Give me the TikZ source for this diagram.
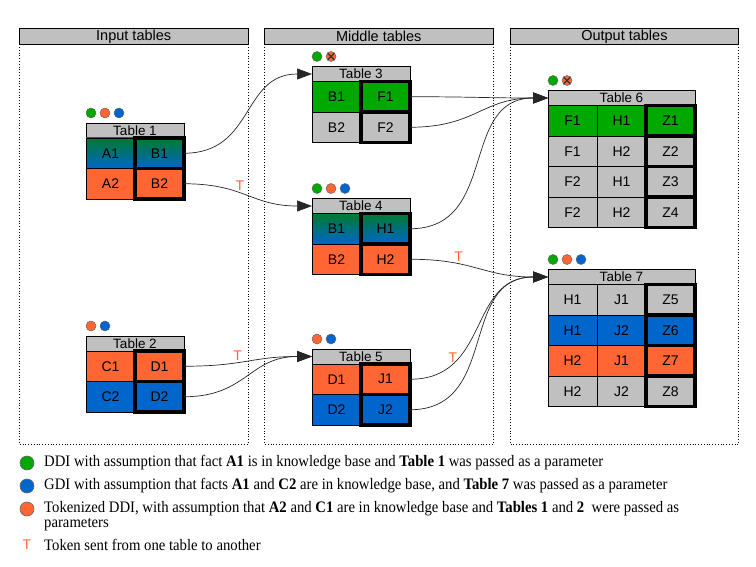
\documentclass[tikz,border=0pt]{standalone}
\usepackage{fontspec}
\setmainfont{Liberation Serif}[FakeStretch=0.92]
\newfontfamily\tabfont{Liberation Sans}
\usetikzlibrary{arrows.meta}

\definecolor{grn}{RGB}{0,168,0}
\definecolor{grnD}{RGB}{0,122,45}
\definecolor{org}{RGB}{255,102,51}
\definecolor{blu}{RGB}{0,102,204}
\definecolor{gry}{RGB}{192,192,192}

\tikzset{
	phead/.style={draw, fill=gry, line width=0.8pt, minimum width=228.4pt, minimum height=16pt, inner sep=0pt, outer sep=0pt, anchor=north west, font=\tabfont\fontsize{14.5}{14.5}\selectfont},
	panel/.style={dotted, line width=0.8pt},
	thead/.style={draw, fill=gry, line width=0.8pt, minimum width=98pt, minimum height=15pt, inner sep=0pt, outer sep=0pt, anchor=north west, font=\tabfont\fontsize{13.5}{13.5}\selectfont},
	cell/.style={draw, line width=0.8pt, minimum width=49pt, minimum height=30.5pt, inner sep=0pt, outer sep=0pt, anchor=north west, font=\tabfont\fontsize{14}{14}\selectfont},
	keycell/.style={cell, line width=3.2pt},
	grad/.style={top color=grnD, bottom color=blu},
	dot/.style={circle, draw=black!60, line width=0.5pt, minimum size=10pt, inner sep=0pt},
	xdot/.style={dot, fill=org, path picture={\draw[black!80, line width=1.1pt] (path picture bounding box.south west) -- (path picture bounding box.north east) (path picture bounding box.north west) -- (path picture bounding box.south east);}},
	conn/.style={line width=0.7pt, black!85, -{Triangle[length=15pt,width=11pt]}, out=0, in=180, looseness=1.2},
	tok/.style={text=org, anchor=south, inner sep=1.5pt, font=\tabfont\fontsize{14}{14}\selectfont},
	ldot/.style={circle, draw=black!60, line width=0.6pt, minimum size=14pt, inner sep=0pt},
	legtxt/.style={anchor=west, inner sep=0pt, font=\fontsize{16}{16}\selectfont}
}

\begin{document}
\begin{tikzpicture}[x=1pt,y=-1pt]
			%%%%% START %%%%%
			\useasboundingbox (0,0) rectangle (756,567);
			
			\node[phead] (pin) at (19.5,28.3) {Input tables};
			\node[phead] (pmid) at (264.6,28.3) {Middle tables};
			\node[phead] (pout) at (510.2,28.3) {Output tables};
			\draw[panel] (pin.south west) -- ++(0,400) -| (pin.south east);
			\draw[panel] (pmid.south west) -- ++(0,400) -| (pmid.south east);
			\draw[panel] (pout.south west) -- ++(0,400) -| (pout.south east);
			
			% Table 1
			\node[dot, fill=grn] (d1a) at (91,113) {};
			\node[dot, fill=org] (d1b) at (105,113) {};
			\node[dot, fill=blu] (d1c) at (119,113) {};
			\node[thead] (t1h) at (86,123) {Table 1};
			\node[cell, grad] (t1a1) at (86,138) {A1};
			\node[cell, fill=org] (t1a2) at (86,168.5) {A2};
			\node[keycell, grad] (t1b1) at (135,138) {B1};
			\node[keycell, fill=org] (t1b2) at (135,168.5) {B2};
			
			% Table 2
			\node[dot, fill=org] (d2a) at (91,326) {};
			\node[dot, fill=blu] (d2b) at (105,326) {};
			\node[thead] (t2h) at (86,336) {Table 2};
			\node[cell, fill=org] (t2c1) at (86,351) {C1};
			\node[cell, fill=blu] (t2c2) at (86,381.5) {C2};
			\node[keycell, fill=org] (t2d1) at (135,351) {D1};
			\node[keycell, fill=blu] (t2d2) at (135,381.5) {D2};
			
			% Table 3
			\node[dot, fill=grn] (d3a) at (317,56.5) {};
			\node[xdot] (d3b) at (331,56.5) {};
			\node[thead] (t3h) at (312,66.5) {Table 3};
			\node[cell, fill=grn] (t3b1) at (312,81.5) {B1};
			\node[cell, fill=gry] (t3b2) at (312,112) {B2};
			\node[keycell, fill=grn] (t3f1) at (361,81.5) {F1};
			\node[keycell, fill=gry] (t3f2) at (361,112) {F2};
			
			% Table 4
			\node[dot, fill=grn] (d4a) at (317,188.5) {};
			\node[dot, fill=org] (d4b) at (331,188.5) {};
			\node[dot, fill=blu] (d4c) at (345,188.5) {};
			\node[thead] (t4h) at (312,198.5) {Table 4};
			\node[cell, grad] (t4b1) at (312,213.5) {B1};
			\node[cell, fill=org] (t4b2) at (312,244) {B2};
			\node[keycell, grad] (t4h1) at (361,213.5) {H1};
			\node[keycell, fill=org] (t4h2) at (361,244) {H2};
			
			% Table 5
			\node[dot, fill=org] (d5a) at (317,339) {};
			\node[dot, fill=blu] (d5b) at (331,339) {};
			\node[thead] (t5h) at (312,349) {Table 5};
			\node[cell, fill=org] (t5d1) at (312,364) {D1};
			\node[cell, fill=blu] (t5d2) at (312,394.5) {D2};
			\node[keycell, fill=org] (t5j1) at (361,364) {J1};
			\node[keycell, fill=blu] (t5j2) at (361,394.5) {J2};
			
			% Table 6
			\node[dot, fill=grn] (d6a) at (553,80.5) {};
			\node[xdot] (d6b) at (567,80.5) {};
			\node[thead, minimum width=147pt] (t6h) at (548,90.5) {Table 6};
			\node[cell, fill=grn] (t6f1) at (548,105.5) {F1};
			\node[cell, fill=grn] (t6h1) at (597,105.5) {H1};
			\node[cell, fill=gry] (t6f2) at (548,136) {F1};
			\node[cell, fill=gry] (t6h2) at (597,136) {H2};
			\node[cell, fill=gry] (t6f3) at (548,166.5) {F2};
			\node[cell, fill=gry] (t6h3) at (597,166.5) {H1};
			\node[cell, fill=gry] (t6f4) at (548,197) {F2};
			\node[cell, fill=gry] (t6h4) at (597,197) {H2};
			\node[keycell, fill=grn] (t6z1) at (646,105.5) {Z1};
			\node[keycell, fill=gry] (t6z2) at (646,136) {Z2};
			\node[keycell, fill=gry] (t6z3) at (646,166.5) {Z3};
			\node[keycell, fill=gry] (t6z4) at (646,197) {Z4};
			
			% Table 7
			\node[dot, fill=grn] (d7a) at (553,259.5) {};
			\node[dot, fill=org] (d7b) at (567,259.5) {};
			\node[dot, fill=blu] (d7c) at (581,259.5) {};
			\node[thead, minimum width=147pt] (t7h) at (548,269.5) {Table 7};
			\node[cell, fill=gry] (t7h1) at (548,284.5) {H1};
			\node[cell, fill=gry] (t7j1) at (597,284.5) {J1};
			\node[cell, fill=blu] (t7h2) at (548,315) {H1};
			\node[cell, fill=blu] (t7j2) at (597,315) {J2};
			\node[cell, fill=org] (t7h3) at (548,345.5) {H2};
			\node[cell, fill=org] (t7j3) at (597,345.5) {J1};
			\node[cell, fill=gry] (t7h4) at (548,376) {H2};
			\node[cell, fill=gry] (t7j4) at (597,376) {J2};
			\node[keycell, fill=gry] (t7z5) at (646,284.5) {Z5};
			\node[keycell, fill=blu] (t7z6) at (646,315) {Z6};
			\node[keycell, fill=org] (t7z7) at (646,345.5) {Z7};
			\node[keycell, fill=gry] (t7z8) at (646,376) {Z8};
			
			% connectors
			\draw[conn] (t1b1.east) to (t3h.west);
			\draw[conn] (t1b2.east) to node[tok, pos=0.42] (tk1) {T} (t4h.west);
			\draw[conn] (t2d1.east) to node[tok, pos=0.4] (tk2) {T} (t5h.west);
			\draw[conn] (t2d2.east) to (t5h.west);
			\draw[conn] (t3f1.east) to (t6h.west);
			\draw[conn] (t3f2.east) to (t6h.west);
			\draw[conn] (t4h1.east) to (t6h.west);
			\draw[conn] (t4h2.east) to node[tok, pos=0.32] (tk3) {T} (t7h.west);
			\draw[conn] (t5j1.east) to node[tok, pos=0.24] (tk4) {T} (t7h.west);
			\draw[conn] (t5j2.east) to (t7h.west);
			
			% legend
			\node[ldot, fill=grn] (lg1) at (27,463) {};
			\node[ldot, fill=blu] (lg2) at (27,486) {};
			\node[ldot, fill=org] (lg3) at (27,509) {};
			\node[text=org, font=\tabfont\fontsize{14}{14}\selectfont] (lg4) at (27,545) {T};
			\node[legtxt] (lt1) at (44,463) {DDI with assumption that fact \textbf{A1} is in knowledge base and \textbf{Table 1} was passed as a parameter};
			\node[legtxt] (lt2) at (44,486) {GDI with assumption that facts \textbf{A1} and \textbf{C2} are in knowledge base, and \textbf{Table 7} was passed as a parameter};
			\node[legtxt] (lt3) at (44,509) {Tokenized DDI, with assumption that \textbf{A2} and \textbf{C1} are in knowledge base and \textbf{Tables 1} and \textbf{2}\ \ were passed as};
			\node[legtxt] (lt3b) at (44,525) {parameters};
			\node[legtxt] (lt4) at (44,545) {Token sent from one table to another};
			
			%%%%% END %%%%%
\end{tikzpicture}
\end{document}
